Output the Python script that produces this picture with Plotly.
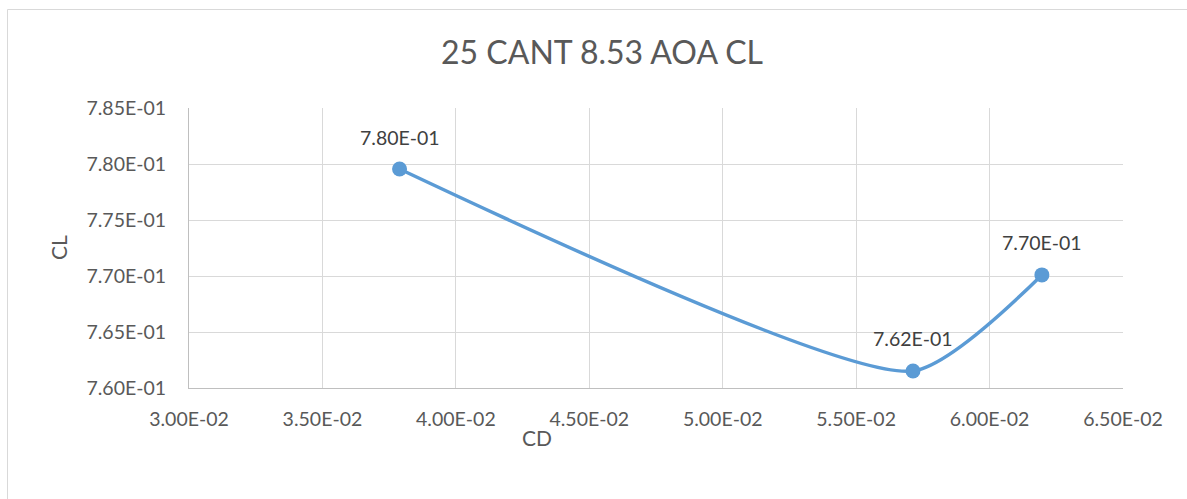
import plotly.graph_objects as go

# Data
cd = [0.03789, 0.05713, 0.06196]
cl = [0.77955, 0.76152, 0.77010]
x_ticks = [0.030, 0.035, 0.040, 0.045, 0.050, 0.055, 0.060, 0.065]
y_ticks = [0.760, 0.765, 0.770, 0.775, 0.780, 0.785]
title_text = "25 CANT 8.53 AOA CL"
x_title = "CD"
y_title = "CL"

FONT = "Lato"
TICK_COLOR = "#595959"
GRID = "#d9d9d9"
LINE_COLOR = "#5b9bd5"

def sci(v):
    return f"{v:.2E}"

fig = go.Figure()
fig.add_trace(go.Scatter(
    x=cd, y=cl, mode="lines+markers",
    line=dict(color=LINE_COLOR, width=3.5, shape="spline", smoothing=0.6),
    marker=dict(color=LINE_COLOR, size=15),
    hoverinfo="x+y", showlegend=False,
))

annotations = []
for xv, yv in zip(cd, cl):
    annotations.append(dict(
        x=xv, y=yv, xref="x", yref="y", text=sci(yv), showarrow=False,
        yshift=32, font=dict(family=FONT, size=19.5, color="#404040"),
    ))
annotations.append(dict(
    x=(537 - 189) / 934, y=(388 - 437) / 280, xref="paper", yref="paper",
    text=x_title, showarrow=False, xanchor="center", yanchor="middle",
    font=dict(family=FONT, size=21, color=TICK_COLOR),
))
annotations.append(dict(
    x=(58 - 189) / 934, y=0.5, xref="paper", yref="paper",
    text=y_title, showarrow=False, xanchor="center", yanchor="middle", textangle=-90,
    font=dict(family=FONT, size=21, color=TICK_COLOR),
))

fig.update_layout(
    width=1187, height=499,
    margin=dict(l=189, r=64, t=108, b=111, autoexpand=False),
    paper_bgcolor="white", plot_bgcolor="white",
    title=dict(text=title_text, x=602 / 1187, xanchor="center",
               y=1 - 53 / 499, yanchor="middle",
               font=dict(family=FONT, size=32, color=TICK_COLOR)),
    xaxis=dict(range=[0.030, 0.065], tickvals=x_ticks, ticktext=[sci(v) for v in x_ticks],
               showgrid=True, gridcolor=GRID, gridwidth=1, zeroline=False,
               showline=True, linecolor="#bfbfbf", linewidth=1, ticks="", ticklen=0,
               automargin=False, ticklabelstandoff=14,
               tickfont=dict(family=FONT, size=19.5, color=TICK_COLOR)),
    yaxis=dict(range=[0.760, 0.785], tickvals=y_ticks, ticktext=[sci(v) for v in y_ticks],
               showgrid=True, gridcolor=GRID, gridwidth=1, zeroline=False,
               showline=True, linecolor="#bfbfbf", linewidth=1, ticks="", ticklen=0,
               automargin=False, ticklabelstandoff=18,
               tickfont=dict(family=FONT, size=19.5, color=TICK_COLOR)),
    annotations=annotations,
    shapes=[dict(type="rect", xref="paper", yref="paper",
                 x0=(7.5 - 189) / 934, x1=(1195 - 189) / 934,
                 y0=(388 - 510) / 280, y1=(388 - 9.5) / 280,
                 line=dict(color="#d9d9d9", width=1), fillcolor="rgba(0,0,0,0)",
                 layer="below")],
)

fig.write_html("out.html", config={"displayModeBar": False},
               post_script="document.body.style.margin='0';document.body.style.overflow='hidden';")
